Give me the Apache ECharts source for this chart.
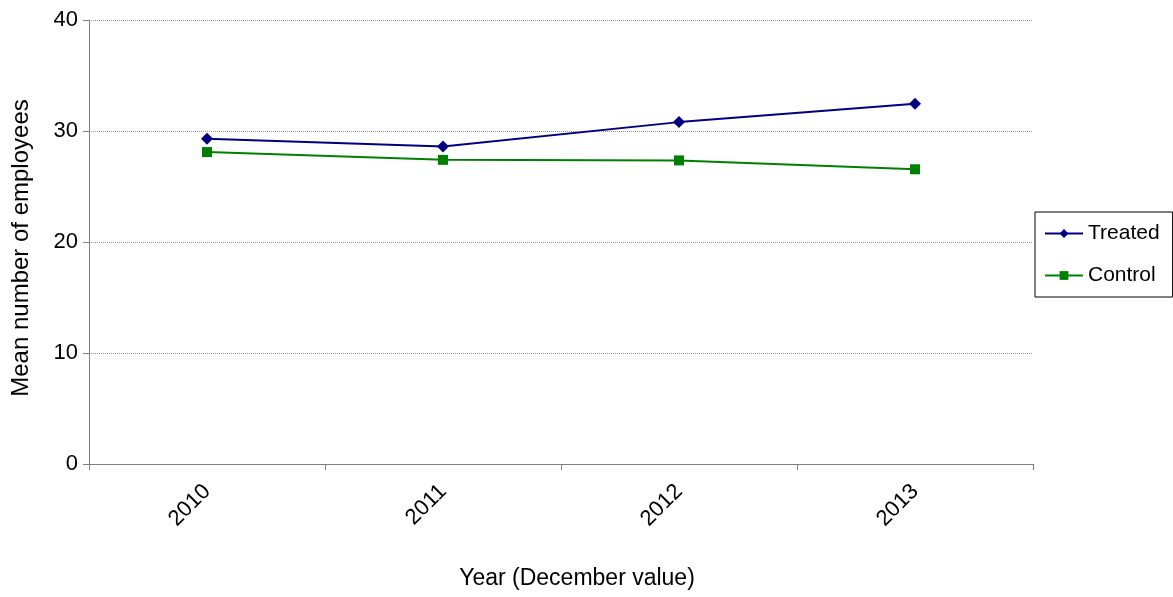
<!DOCTYPE html>
<html>
<head>
<meta charset="utf-8">
<script src="https://cdn.jsdelivr.net/npm/echarts@6/dist/echarts.min.js"></script>
<style>
  html, body { margin: 0; padding: 0; background: #fff; }
  #chart { width: 1173px; height: 597px; }
</style>
</head>
<body>
<div id="chart"></div>
<script>
// Mean number of employees per firm, December of each year
const years = ['2010', '2011', '2012', '2013'];
const treated = [29.3, 28.6, 30.8, 32.45];
const control = [28.1, 27.4, 27.35, 26.55];
const yTicks = [0, 10, 20, 30, 40];

const FONT = '"Liberation Sans", Arial, sans-serif';

const chart = echarts.init(document.getElementById('chart'), null, { renderer: 'canvas' });
chart.setOption({
  animation: false,
  backgroundColor: '#ffffff',
  grid: { left: 89, right: 140, top: 20, bottom: 133, containLabel: false, outerBoundsMode: 'none' },
  legend: {
    orient: 'vertical',
    left: 1035,
    top: 212,
    width: 137,
    padding: [11, 13, 11, 9],
    itemGap: 21,
    itemWidth: 38,
    itemHeight: 11,
    borderColor: '#000',
    borderWidth: 1,
    textStyle: { fontFamily: FONT, fontSize: 21, color: '#000', padding: [0, 0, 0, 0] },
    data: ['Treated', 'Control']
  },
  xAxis: {
    type: 'category',
    data: years,
    boundaryGap: true,
    name: 'Year (December value)',
    nameLocation: 'middle',
    nameGap: 103,
    nameTextStyle: { fontFamily: FONT, fontSize: 23, color: '#000', padding: [0, 0, 0, 32] },
    axisLine: { lineStyle: { color: '#808080', width: 1 } },
    axisTick: { show: true, length: 6, alignWithLabel: false, lineStyle: { color: '#808080' } },
    axisLabel: { rotate: 45, fontFamily: FONT, fontSize: 22, color: '#000', margin: 24 },
    splitLine: { show: false }
  },
  yAxis: {
    type: 'value',
    min: yTicks[0],
    max: yTicks[yTicks.length - 1],
    interval: 10,
    name: 'Mean number of employees',
    nameLocation: 'middle',
    nameGap: 56,
    nameTextStyle: { fontFamily: FONT, fontSize: 24, color: '#000', padding: [0, 12, 0, 0] },
    axisLine: { show: true, lineStyle: { color: '#808080', width: 1 } },
    axisTick: { show: true, length: 6, inside: false, lineStyle: { color: '#808080' } },
    axisLabel: { fontFamily: FONT, fontSize: 22, color: '#000', margin: 11 },
    splitLine: { show: true, lineStyle: { color: '#9a9a9a', type: [1, 1], width: 1 } }
  },
  series: [
    {
      name: 'Treated',
      type: 'line',
      data: treated,
      symbol: 'diamond',
      symbolSize: 12,
      itemStyle: { color: '#000080' },
      lineStyle: { color: '#000080', width: 2 }
    },
    {
      name: 'Control',
      type: 'line',
      data: control,
      symbol: 'rect',
      symbolSize: 10,
      itemStyle: { color: '#008000' },
      lineStyle: { color: '#008000', width: 2 }
    }
  ]
});
</script>
</body>
</html>
